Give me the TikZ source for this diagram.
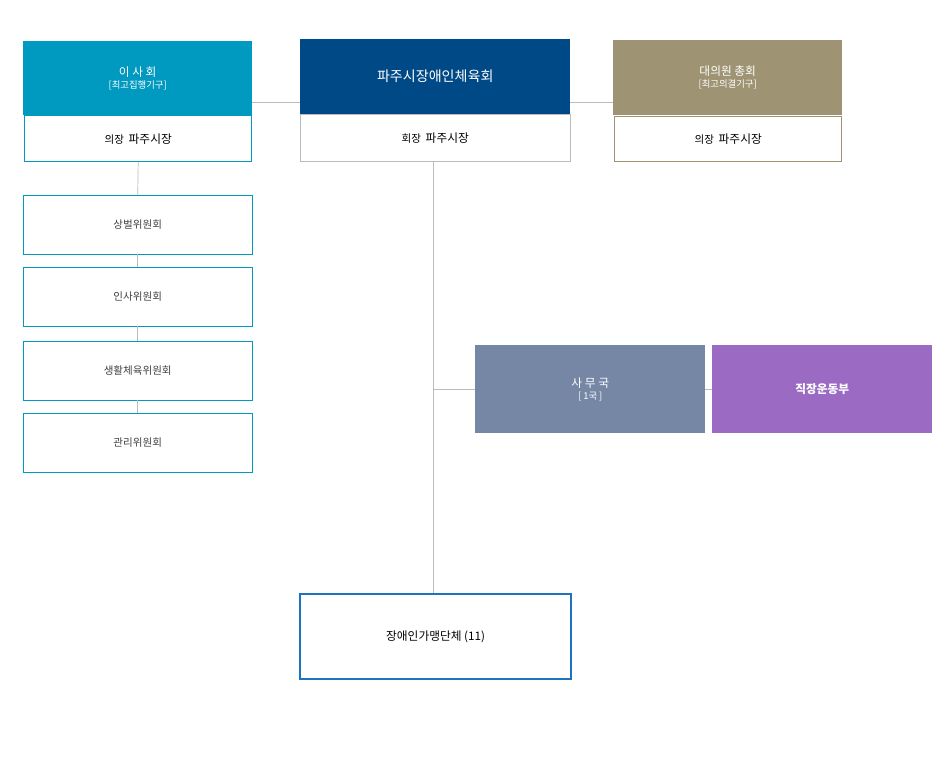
\documentclass[tikz,border=0pt]{standalone}
\usepackage{fontspec}
\setmainfont{Noto Sans CJK KR}
\usetikzlibrary{positioning}
\definecolor{teal}{HTML}{0099BF}
\definecolor{navy}{HTML}{004987}
\definecolor{olive}{HTML}{9E9474}
\definecolor{slate}{HTML}{7687A5}
\definecolor{violet}{HTML}{9B6BC4}
\definecolor{blueline}{HTML}{1C73BE}
\definecolor{linegray}{HTML}{BBBBBB}
\begin{document}
\begin{tikzpicture}[x=0.3mm,y=-0.3mm,
  headbox/.style={anchor=north west,inner sep=0pt,text=white,align=center},
  chairbox/.style={anchor=north west,inner sep=0pt,fill=white,font=\small},
  committee/.style={anchor=north west,draw=teal,inner sep=0pt,minimum width=229*0.3mm,minimum height=59*0.3mm,text=black!75,font=\small},
  link/.style={draw=linegray,line width=0.6pt}]
\useasboundingbox (0,0) rectangle (950,766);

% top row
\node[headbox,fill=teal,minimum width=229*0.3mm,minimum height=74*0.3mm] (board) at (23,41)
  {이 사 회\\[-2pt]{\footnotesize [최고집행기구]}};
\node[chairbox,draw=teal,line width=1.2pt,minimum width=227*0.3mm,minimum height=46*0.3mm] (boardchair) at (24,115) {의장\ \ {\normalsize 파주시장}};
\node[headbox,fill=navy,minimum width=270*0.3mm,minimum height=75*0.3mm,font=\large] (assoc) at (300,39) {파주시장애인체육회};
\node[chairbox,draw=linegray,minimum width=270*0.3mm,minimum height=47*0.3mm] (assocchair) at (300,114) {회장\ \ {\normalsize 파주시장}};
\node[headbox,fill=olive,minimum width=229*0.3mm,minimum height=75*0.3mm] (general) at (613,40)
  {대의원 총회\\[-2pt]{\footnotesize [최고의결기구]}};
\node[chairbox,draw=olive,line width=1.2pt,minimum width=227*0.3mm,minimum height=45*0.3mm] (generalchair) at (614,116) {의장\ \ {\normalsize 파주시장}};

% committees
\node[committee] (c1) at (23,195) {상벌위원회};
\node[committee] (c2) at (23,267) {인사위원회};
\node[committee] (c3) at (23,341) {생활체육위원회};
\node[committee] (c4) at (23,413) {관리위원회};

% office and team
\node[headbox,fill=slate,minimum width=230*0.3mm,minimum height=88*0.3mm] (office) at (475,345)
  {사 무 국\\[-2pt]{\footnotesize [ 1국 ]}};
\node[headbox,fill=violet,minimum width=220*0.3mm,minimum height=88*0.3mm,font=\bfseries] (team) at (712,345) {직장운동부};

% members
\node[anchor=north west,draw=blueline,line width=2pt,minimum width=271*0.3mm,minimum height=85*0.3mm,inner sep=0pt] (members) at (299,593) {장애인가맹단체 (11)};

% links
\coordinate (lt) at (252,102);
\coordinate (rt) at (613,102);
\draw[link] (lt) -- (assoc.west |- lt);
\draw[link] (assoc.east |- rt) -- (rt);
\draw[link] (boardchair.south) -- (c1.north);
\draw[link] (c1.south) -- (c2.north);
\draw[link] (c2.south) -- (c3.north);
\draw[link] (c3.south) -- (c4.north);
\draw[link] (433,161) coordinate (top) -- (members.north -| top);
\draw[link] (top |- office.west) -- (office.west);
\draw[link] (office.east) -- (team.west);
\end{tikzpicture}
\end{document}
